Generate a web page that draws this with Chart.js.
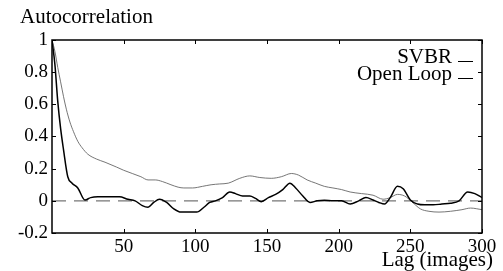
<!DOCTYPE html>
<html>
<head>
<meta charset="utf-8">
<script src="https://cdn.jsdelivr.net/npm/chart.js@4/dist/chart.umd.min.js"></script>
<style>
  html, body { margin: 0; padding: 0; background: #fff; }
  #wrap { width: 503px; height: 271px; position: relative; }
</style>
</head>
<body>
<div id="wrap"><canvas id="c" width="503" height="271"></canvas></div>
<script>
// ---- Data ----
const seriesNames = ['SVBR', 'Open Loop'];
const yAxisTitle = 'Autocorrelation';
const xAxisTitle = 'Lag (images)';
const xTickLabels = [50, 100, 150, 200, 250, 300];
const yTickLabels = [-0.2, 0, 0.2, 0.4, 0.6, 0.8, 1];

const svbrLags = [0,2,4,6,8,11,14,18,23,27,32,40,47,53,58,63,67,71,75,80,85,90,96,101,106,110,114,119,124,128,133,138,142,146,151,156,161,166,170,175,180,185,190,196,202,208,214,219,224,228,232,236,241,245,250,255,260,266,272,278,284,290,295,300];
const svbrVals = [1.0,0.85,0.62,0.45,0.32,0.15,0.11,0.08,0.005,0.02,0.025,0.025,0.025,0.01,0.0,-0.03,-0.04,-0.01,0.01,-0.01,-0.05,-0.07,-0.07,-0.07,-0.04,-0.01,0.0,0.02,0.055,0.045,0.03,0.03,0.015,-0.005,0.02,0.04,0.07,0.11,0.08,0.03,-0.01,0.0,0.003,0.0,0.0,-0.02,0.0,0.02,0.005,-0.01,-0.02,0.02,0.09,0.075,0.005,-0.02,-0.025,-0.025,-0.02,-0.015,0.0,0.055,0.045,0.02];

const openLags = [0,2,4,6,8,10,12.5,15,18,21,25,31,37,45,50,56,62,67,72,77,83,88,92,98,105,111,117,123,131,138,145,153,160,167,172,178,184,190,196,202,208,216,224,231,236,241,246,251,257,263,270,278,286,292,300];
const openVals = [1.0,0.93,0.83,0.74,0.65,0.57,0.49,0.43,0.37,0.33,0.29,0.26,0.24,0.21,0.19,0.17,0.15,0.13,0.13,0.12,0.10,0.085,0.08,0.08,0.09,0.10,0.105,0.11,0.14,0.155,0.145,0.14,0.15,0.17,0.16,0.13,0.11,0.09,0.08,0.07,0.055,0.045,0.035,0.01,0.02,0.04,0.03,-0.005,-0.05,-0.065,-0.07,-0.065,-0.055,-0.045,-0.055];

const zeroLags = [0, 300];
const zeroVals = [0, 0];

const FONT = '"Liberation Serif", "Times New Roman", serif';
const toPts = (xs, ys) => xs.map((x, i) => ({ x: x, y: ys[i] }));

const framePlugin = {
  id: 'frame',
  afterDraw(chart) {
    const ctx = chart.ctx;
    const a = chart.chartArea;
    const xs = chart.scales.x, ys = chart.scales.y;
    ctx.save();
    ctx.strokeStyle = '#000';
    ctx.lineWidth = 1.5;
    ctx.strokeRect(a.left, a.top, a.right - a.left, a.bottom - a.top);
    ctx.lineWidth = 1;
    ctx.beginPath();
    yTickLabels.forEach(v => {
      const y = Math.round(ys.getPixelForValue(v)) + 0.5;
      ctx.moveTo(a.left, y); ctx.lineTo(a.left + 4, y);
      ctx.moveTo(a.right, y); ctx.lineTo(a.right - 4, y);
    });
    xTickLabels.forEach(v => {
      const x = Math.round(xs.getPixelForValue(v)) + 0.5;
      ctx.moveTo(x, a.bottom); ctx.lineTo(x, a.bottom - 4);
      ctx.moveTo(x, a.top); ctx.lineTo(x, a.top + 4);
    });
    ctx.stroke();

    // axis titles
    ctx.fillStyle = '#000';
    ctx.font = '21px ' + FONT;
    ctx.textBaseline = 'alphabetic';
    ctx.textAlign = 'left';
    ctx.fillText(yAxisTitle, 20, 23);
    ctx.textAlign = 'right';
    ctx.fillText(xAxisTitle, 493, 266);

    // legend
    const legendY = [63, 80];
    chart.data.datasets.slice(0, 2).forEach((ds, i) => {
      ctx.textAlign = 'right';
      ctx.fillStyle = '#000';
      ctx.fillText(seriesNames[i], 452, legendY[i]);
      ctx.strokeStyle = '#000';
      ctx.lineWidth = 1;
      ctx.beginPath();
      ctx.moveTo(458, legendY[i] - 1.5);
      ctx.lineTo(473, legendY[i] - 1.5);
      ctx.stroke();
    });
    ctx.restore();
  }
};

new Chart(document.getElementById('c'), {
  type: 'line',
  data: {
    datasets: [
      { label: seriesNames[0], data: toPts(svbrLags, svbrVals), borderColor: '#000', borderWidth: 1.5, pointRadius: 0, cubicInterpolationMode: 'monotone', fill: false },
      { label: seriesNames[1], data: toPts(openLags, openVals), borderColor: '#666', borderWidth: 0.9, pointRadius: 0, cubicInterpolationMode: 'monotone', fill: false },
      { label: 'zero', data: toPts(zeroLags, zeroVals), borderColor: '#777', borderWidth: 1.3, borderDash: [14, 8], pointRadius: 0, fill: false }
    ]
  },
  options: {
    responsive: false,
    animation: false,
    devicePixelRatio: 1,
    layout: { padding: { top: 40, right: 21, left: 0, bottom: 0 } },
    plugins: { legend: { display: false }, tooltip: { enabled: false } },
    scales: {
      x: {
        type: 'linear', min: 0, max: 300,
        afterFit(s) { s.height = 38; },
        afterBuildTicks(s) { s.ticks = xTickLabels.map(v => ({ value: v })); },
        grid: { display: false, drawTicks: false },
        border: { display: false },
        ticks: { color: '#000', font: { family: FONT, size: 19 }, padding: 3, maxRotation: 0, callback: v => String(v) }
      },
      y: {
        type: 'linear', min: -0.2, max: 1,
        afterFit(s) { s.width = 52; },
        afterBuildTicks(s) { s.ticks = yTickLabels.map(v => ({ value: v })); },
        grid: { display: false, drawTicks: false },
        border: { display: false },
        ticks: { color: '#000', font: { family: FONT, size: 19 }, padding: 4, callback: v => String(Number(v.toFixed(1))) }
      }
    }
  },
  plugins: [framePlugin]
});
</script>
</body>
</html>
